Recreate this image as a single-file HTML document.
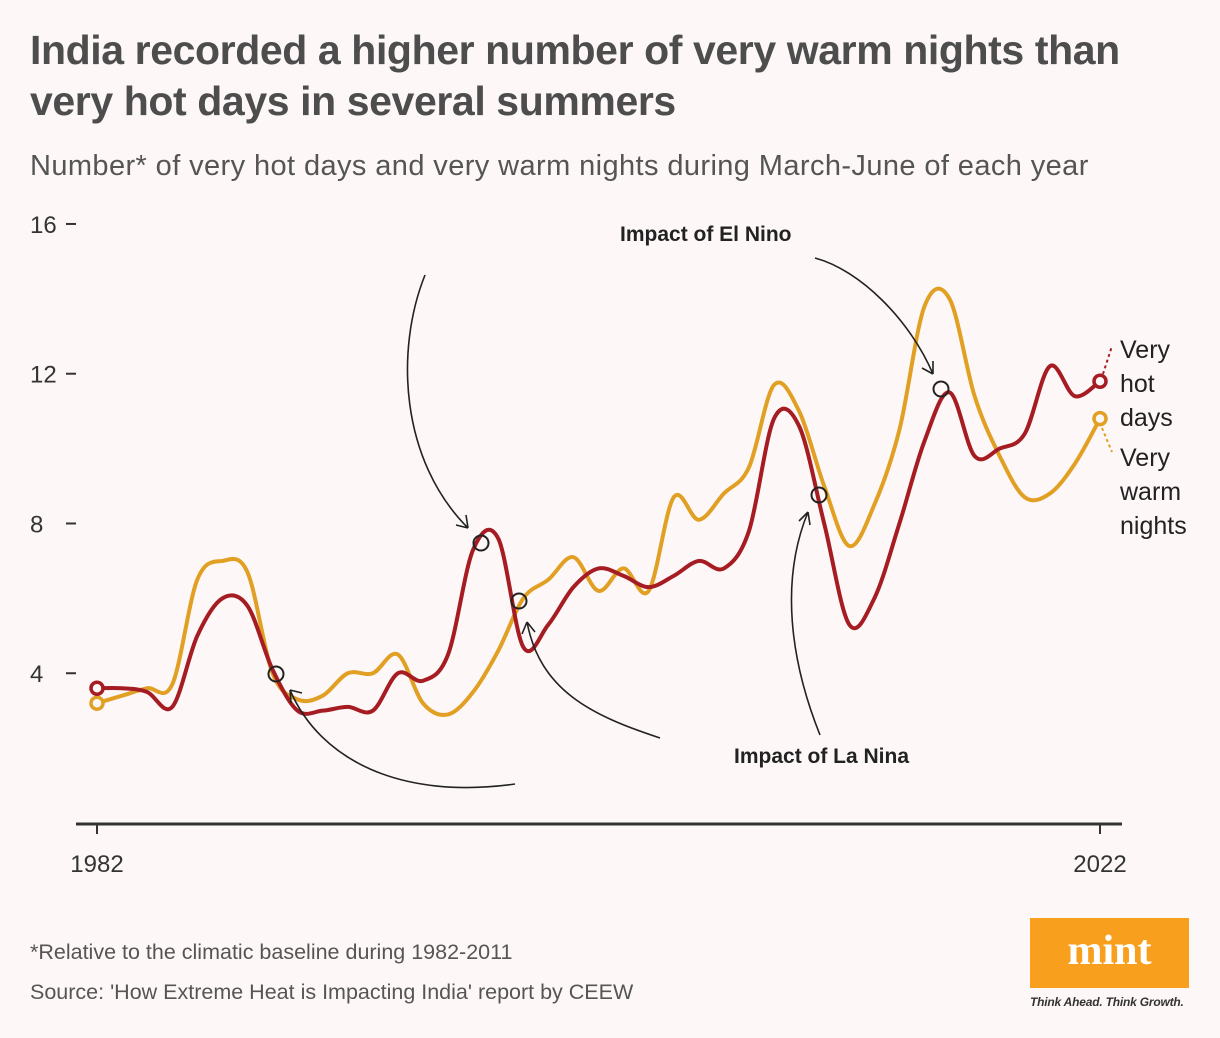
<!DOCTYPE html>
<html><head><meta charset="utf-8"><style>
body{margin:0;background:#fdf8f7;font-family:"Liberation Sans",sans-serif;}
#wrap{position:relative;width:1220px;height:1038px;overflow:hidden;background:#fdf8f7;}
h1{position:absolute;left:30px;top:25px;margin:0;font-size:41px;line-height:51px;font-weight:bold;color:#4d4d4d;letter-spacing:-0.4px;}
.sub{position:absolute;left:30px;top:150px;font-size:29px;color:#555;letter-spacing:0.4px;}
.foot{position:absolute;left:30px;font-size:21.5px;color:#555;}
</style></head><body>
<div id="wrap">
<h1>India recorded a higher number of very warm nights than<br>very hot days in several summers</h1>
<div class="sub">Number* of very hot days and very warm nights during March-June of each year</div>
<svg id="chart" width="1220" height="1038" style="position:absolute;left:0;top:0"></svg>
<div class="foot" style="top:940px">*Relative to the climatic baseline during 1982-2011</div>
<div class="foot" style="top:980px">Source: 'How Extreme Heat is Impacting India' report by CEEW</div>
<div style="position:absolute;left:1030px;top:918px;width:159px;height:70px;background:#f8a01e;color:#fff;font-family:'Liberation Serif',serif;font-weight:bold;font-size:42px;text-align:center;line-height:66px;">mint</div>
<div style="position:absolute;left:1030px;top:995px;font-size:12px;font-style:italic;font-weight:bold;color:#333;letter-spacing:-0.2px;">Think Ahead. Think Growth.</div>
</div>
<script>
const years=[1982,1983,1984,1985,1986,1987,1988,1989,1990,1991,1992,1993,1994,1995,1996,1997,1998,1999,2000,2001,2002,2003,2004,2005,2006,2007,2008,2009,2010,2011,2012,2013,2014,2015,2016,2017,2018,2019,2020,2021,2022];
const hotDays=[3.6,3.6,3.5,3.1,5.0,6.0,5.8,4.1,3.0,3.0,3.1,3.0,4.0,3.8,4.5,7.3,7.6,4.7,5.3,6.3,6.8,6.6,6.3,6.6,7.0,6.8,7.8,10.8,10.6,8.0,5.3,6.0,8.0,10.2,11.5,9.8,10.0,10.4,12.2,11.4,11.8];
const warmNights=[3.2,3.4,3.6,3.7,6.5,7.0,6.7,4.0,3.3,3.4,4.0,4.0,4.5,3.2,2.9,3.5,4.6,6.0,6.5,7.1,6.2,6.8,6.2,8.7,8.1,8.8,9.5,11.7,11.0,9.0,7.4,8.5,10.5,13.8,14.0,11.4,9.8,8.7,8.8,9.6,10.8];
const yTicks=[4,8,12,16];
const xLabels=[1982,2022];
const svg=document.getElementById('chart');const NS='http://www.w3.org/2000/svg';
const x=v=>97+(v-1982)*(1100-97)/40;
const y=v=>823-v*37.44;
function mk(t,a){const e=document.createElementNS(NS,t);for(const k in a)e.setAttribute(k,a[k]);svg.appendChild(e);return e;}
function smooth(pts){let d='M'+pts[0][0]+','+pts[0][1];for(let i=0;i<pts.length-1;i++){const p0=pts[i-1]||pts[i],p1=pts[i],p2=pts[i+1],p3=pts[i+2]||p2;const t=6;d+=' C'+(p1[0]+(p2[0]-p0[0])/t)+','+(p1[1]+(p2[1]-p0[1])/t)+' '+(p2[0]-(p3[0]-p1[0])/t)+','+(p2[1]-(p3[1]-p1[1])/t)+' '+p2[0]+','+p2[1];}return d;}
let ax=mk('line',{x1:76,x2:1122,y1:824,y2:824,stroke:'#333','stroke-width':3});

yTicks.forEach(v=>{let l=mk('line',{x1:66,x2:76,y1:y(v),y2:y(v),stroke:'#333','stroke-width':2});

let t=mk('text',{x:30,y:y(v)+9,'font-size':24,fill:'#333','font-family':'Liberation Sans'});t.textContent=v;
});
xLabels.forEach(v=>{let l=mk('line',{x1:x(v),x2:x(v),y1:824,y2:834,stroke:'#333','stroke-width':2});

let t=mk('text',{x:x(v),y:872,'font-size':24,fill:'#333','text-anchor':'middle','font-family':'Liberation Sans'});t.textContent=v;
});
const series=[[warmNights,'#e1a024','warm-nights-line'],[hotDays,'#a51c22','hot-days-line']];
series.forEach(([vals,c,n])=>{const pts=vals.map((v,i)=>[x(years[i]),y(v)]);
let p=mk('path',{d:smooth(pts),fill:'none',stroke:c,'stroke-width':4,'stroke-linecap':'round'});

[0,vals.length-1].forEach(i=>{let ci=mk('circle',{cx:pts[i][0],cy:pts[i][1],r:6,fill:'#fdf8f7',stroke:c,'stroke-width':3.5});
});});
let d1=mk('line',{x1:1103,y1:374,x2:1112,y2:346,stroke:'#a51c22','stroke-width':2,'stroke-dasharray':'3,3'});

let d2=mk('line',{x1:1102,y1:428,x2:1112,y2:452,stroke:'#e1a024','stroke-width':2,'stroke-dasharray':'3,3'});

[['Very',358],['hot',392],['days',426]].forEach(([s,yy])=>{let t=mk('text',{x:1120,y:yy,'font-size':25,fill:'#222'});t.textContent=s;
});
[['Very',466],['warm',500],['nights',534]].forEach(([s,yy])=>{let t=mk('text',{x:1120,y:yy,'font-size':25,fill:'#222'});t.textContent=s;
});
const annPts=[[276,674],[481,543],[519,601],[819,495],[941,389]];
annPts.forEach(([cx,cy])=>{let c=mk('circle',{cx:cx,cy:cy,r:7.5,fill:'none',stroke:'#222','stroke-width':2});
});
const arrows=[['M515,784 C400,800 320,760 290,690','M290,690 l1,13 M290,690 l12,3'],
['M425,275 C395,350 400,460 468,528','M468,528 l-2,-13 M468,528 l-12,-3'],
['M660,738 C590,715 540,690 527,622','M527,622 l-5,12 M527,622 l8,10'],
['M820,735 C790,660 780,580 808,512','M808,512 l-9,9 M808,512 l2,13'],
['M815,258 C860,270 910,320 933,374','M933,374 l0,-13 M933,374 l-11,-6']];
arrows.forEach(([a,h])=>{let p=mk('path',{d:a+' '+h,fill:'none',stroke:'#222','stroke-width':1.6});
});
let t1=mk('text',{x:620,y:241,'font-size':21,'font-weight':'bold',fill:'#222'});t1.textContent='Impact of El Nino';

let t2=mk('text',{x:734,y:763,'font-size':21,'font-weight':'bold',fill:'#222'});t2.textContent='Impact of La Nina';

</script>
</body></html>
